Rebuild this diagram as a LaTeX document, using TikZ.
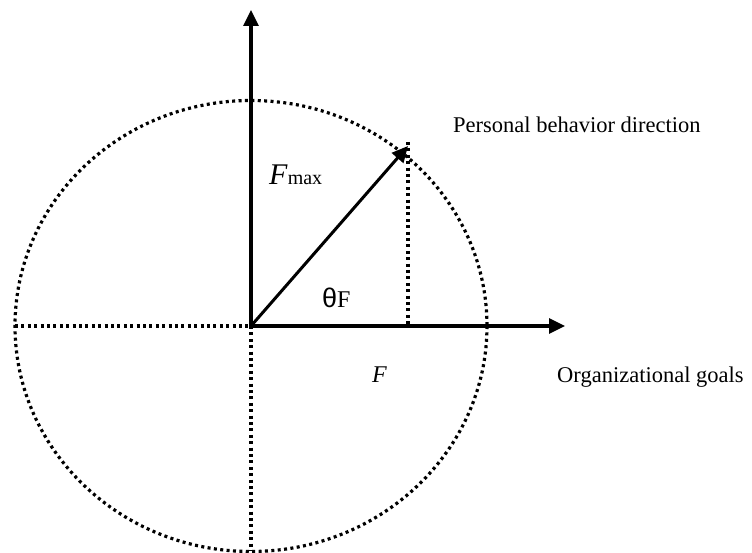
\documentclass[tikz,border=0pt]{standalone}
\usepackage{fontspec}
\setmainfont{Liberation Serif}
\newfontfamily\thetafont{Liberation Sans}
\usetikzlibrary{arrows.meta}
\begin{document}
\begin{tikzpicture}[x=1pt,y=-1pt,
  axis/.style={line width=3.2pt,-{Triangle[length=16pt,width=15pt]}},
  dotline/.style={line width=3.2pt,dash pattern=on 3pt off 3.4pt},
  lbl/.style={inner sep=0pt,anchor=base west,font=\fontsize{22.5}{26}\selectfont}]
\useasboundingbox (0,0) rectangle (752,553);
\coordinate (O) at (251,326);
\coordinate (top) at (251,10);
\coordinate (right) at (565,326);
\coordinate (tipd) at (408,146);
\coordinate (foot) at (408,326);
\coordinate (left) at (15,326);
\coordinate (bottom) at (251,551);
% dotted circle
\draw[dotline] (O) ellipse [x radius=236, y radius=225.5];
\draw[dotline] (left) -- (O);
\draw[dotline] (O) -- (bottom);
\draw[dotline] ([yshift=4pt]tipd) -- (foot);
% axes
\draw[axis] (O) -- (top);
\draw[axis] (O) -- (right);
\draw[axis,line width=3pt] (O) -- (tipd);
% labels
\node[lbl] (pbd) at (453,133) {Personal behavior direction};
\node[lbl] (og) at (557,382) {Organizational goals};
\node[lbl,font=\fontsize{24}{28}\selectfont\itshape] (f) at (372,382) {F};
\node[lbl,font=\fontsize{30}{34}\selectfont] (fmax) at (269,185) {\textit{F}\fontsize{20}{24}\selectfont max};
\node[lbl,font=\fontsize{24}{28}\selectfont] (theta) at (322,308) {{\thetafont\fontsize{27}{30}\selectfont θ}F};
\end{tikzpicture}
\end{document}
